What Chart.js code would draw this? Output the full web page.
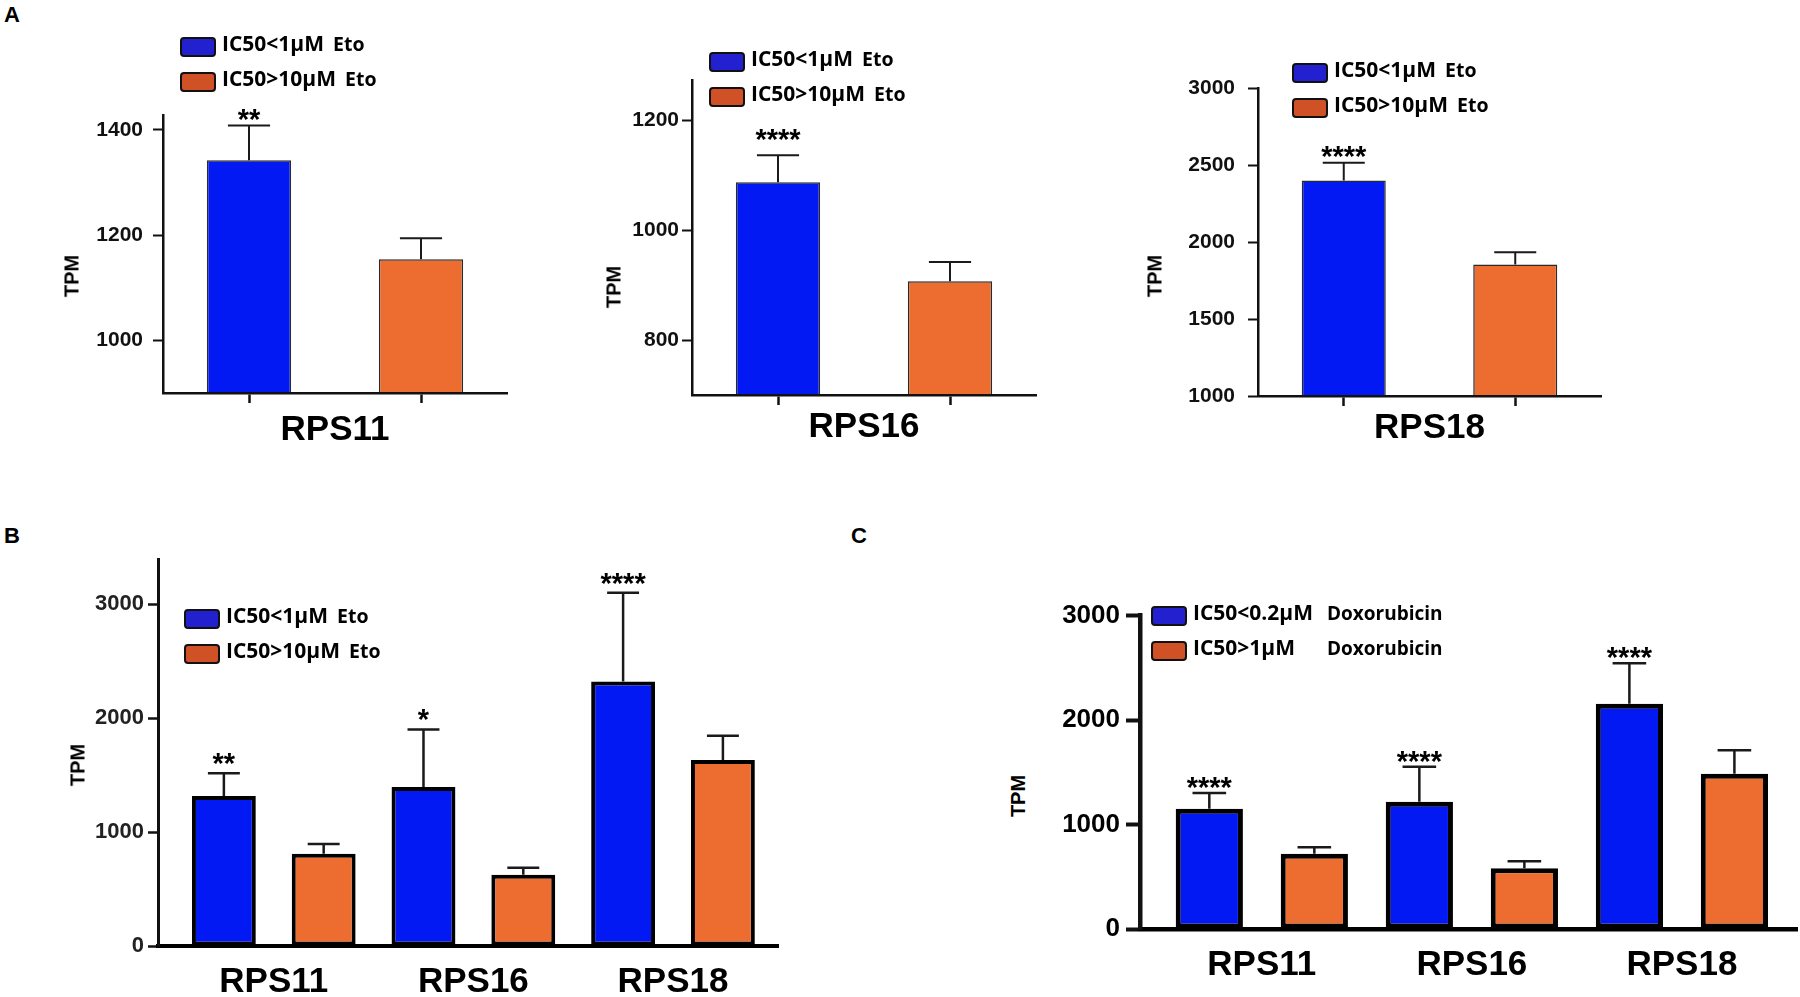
<!DOCTYPE html>
<html>
<head>
<meta charset="utf-8">
<title>RPS11 / RPS16 / RPS18 TPM</title>
<script src="https://cdn.jsdelivr.net/npm/chart.js@4.4.1/dist/chart.umd.min.js"></script>
<style>
  html, body { margin: 0; padding: 0; background: #fff; }
  body { width: 1800px; height: 997px; position: relative; overflow: hidden; }
  canvas { position: absolute; }
  .letter { position: absolute; font: bold 22px 'Liberation Sans', Arial, sans-serif; line-height: 22px; color: #000; }
  .ytitle { position: absolute; font: bold 20px 'Liberation Sans', Arial, sans-serif; color: #000;
            transform: translate(-50%, -50%) rotate(-90deg); white-space: nowrap; }
  .legend { position: absolute; font-family: 'Open Sans', sans-serif; font-weight: 700; color: #000; white-space: pre; }
  .legend .row { position: absolute; left: 0; display: flex; align-items: flex-start; }
  .legend .box { width: 36px; height: 20px; box-sizing: border-box; border: 2.5px solid #111; border-radius: 4px; flex: none; }
  .legend .txt { margin-left: 6px; line-height: 20px; position: relative; top: -4px; }
  .legend .lab { font-size: 21px; display: inline-block; }
  .legend .drug { font-size: 19.5px; margin-left: 9px; }
</style>
</head>
<body>
<div class="letter" style="left:4px;top:4px">A</div>
<div class="letter" style="left:4px;top:525px">B</div>
<div class="letter" style="left:851px;top:525px">C</div>
<canvas id="a0"></canvas>
<canvas id="a1"></canvas>
<canvas id="a2"></canvas>
<canvas id="b"></canvas>
<canvas id="c"></canvas>
<script>
// Data
const genes = ['RPS11', 'RPS16', 'RPS18'];
const etoGroups = ['IC50<1μM', 'IC50>10μM'];
const etoDrug = 'Eto';
const doxoGroups = ['IC50<0.2μM', 'IC50>1μM'];
const doxoDrug = 'Doxorubicin';
const yTitle = 'TPM';

// Panel A: one chart per gene (etoposide)
const aSensitive = [1342, 1087, 2402];
const aSensitiveErr = [66, 49, 115];
const aResistant = [1154, 907, 1855];
const aResistantErr = [40, 35, 81];
const aStars = ['**', '****', '****'];
const aYMin = [900, 700, 1000];
const aYMax = [1427, 1273, 3000];
const aYTicks = [[1000, 1200, 1400], [800, 1000, 1200], [1000, 1500, 2000, 2500, 3000]];

// Panel B: etoposide, all genes
const bSensitive = [1315, 1395, 2320];
const bSensitiveErr = [200, 505, 779];
const bResistant = [810, 625, 1632];
const bResistantErr = [85, 62, 213];
const bStars = ['**', '*', '****'];
const bYTicks = [0, 1000, 2000, 3000];

// Panel C: doxorubicin, all genes
const cSensitive = [1150, 1218, 2157];
const cSensitiveErr = [153, 335, 386];
const cResistant = [720, 582, 1486];
const cResistantErr = [63, 67, 226];
const cStars = ['****', '****', '****'];
const cYTicks = [0, 1000, 2000, 3000];

const BLUE = '#0219f4';
const ORANGE = '#ed6c2f';
const LEGEND_COLORS = ['#2320cf', '#cf5125'];
const FONT = "'Liberation Sans', Arial, sans-serif";

// Page layout (plot areas in page pixels)
const A_AREAS = [
    { left: 163, top: 113, right: 507, bottom: 393 },
    { left: 692, top: 80, right: 1036, bottom: 395 },
    { left: 1258, top: 83, right: 1601, bottom: 396 }
];
const A_XH = [58, 53, 53];
const B_AREA = { left: 158, top: 559, right: 778, bottom: 946 };
const C_AREA = { left: 1140, top: 614, right: 1797, bottom: 929 };
const Y_W = 100, PAD_T = 20, PAD_R = 20;

Chart.defaults.font.family = FONT;

// Error bars and significance stars
const errorBars = {
    id: 'errorBars',
    afterDatasetsDraw(chart, args, opts) {
        const ctx = chart.ctx;
        const yScale = chart.scales.y;
        chart.data.datasets.forEach((ds, di) => {
            const meta = chart.getDatasetMeta(di);
            meta.data.forEach((bar, i) => {
                const v = meta.controller.getParsed(i).y;
                const top = yScale.getPixelForValue(v);
                const cap = yScale.getPixelForValue(v + ds.errors[i]);
                const half = bar.width / 4;
                ctx.save();
                ctx.strokeStyle = opts.color;
                ctx.lineWidth = opts.width;
                ctx.beginPath();
                ctx.moveTo(bar.x, top);
                ctx.lineTo(bar.x, cap);
                ctx.moveTo(bar.x - half, cap);
                ctx.lineTo(bar.x + half, cap);
                ctx.stroke();
                const s = ds.stars && ds.stars[i];
                if (s) {
                    ctx.font = 'bold ' + opts.starSize + 'px ' + FONT;
                    ctx.fillStyle = '#000';
                    ctx.textAlign = 'center';
                    ctx.textBaseline = 'alphabetic';
                    ctx.fillText(s, bar.x, cap - opts.starGap + opts.starSize * 0.55);
                }
                ctx.restore();
            });
        });
    }
};
Chart.register(errorBars);

function placeCanvas(id, area, xh) {
    const c = document.getElementById(id);
    const w = area.right - area.left + Y_W + PAD_R;
    const h = area.bottom - area.top + PAD_T + xh;
    c.width = w;
    c.height = h;
    c.style.left = (area.left - Y_W) + 'px';
    c.style.top = (area.top - PAD_T) + 'px';
    c.style.width = w + 'px';
    c.style.height = h + 'px';
    return c;
}

function yAxis(min, max, ticks, o) {
    return {
        min: min,
        max: max,
        afterFit: s => { s.width = Y_W; },
        afterBuildTicks: s => { s.ticks = ticks.map(v => ({ value: v })); },
        border: { display: true, color: '#111', width: o.axisW, z: 1 },
        grid: { drawOnChartArea: false, drawTicks: true, tickLength: o.tickLen, tickWidth: o.tickW, tickColor: '#111' },
        ticks: {
            callback: v => String(v),
            font: { size: o.size, weight: 'bold' },
            color: o.color || '#111',
            padding: o.pad
        }
    };
}

function addYTitle(x, y) {
    const d = document.createElement('div');
    d.className = 'ytitle';
    d.textContent = yTitle;
    d.style.left = x + 'px';
    d.style.top = y + 'px';
    document.body.appendChild(d);
}

function addLegend(left, top, groups, drug, labWidth) {
    const wrap = document.createElement('div');
    wrap.className = 'legend';
    wrap.style.left = left + 'px';
    wrap.style.top = top + 'px';
    groups.forEach((g, i) => {
        const row = document.createElement('div');
        row.className = 'row';
        row.style.top = (i * 35) + 'px';
        const box = document.createElement('span');
        box.className = 'box';
        box.style.background = LEGEND_COLORS[i];
        const txt = document.createElement('span');
        txt.className = 'txt';
        const lab = document.createElement('span');
        lab.className = 'lab';
        lab.textContent = g;
        if (labWidth) lab.style.width = labWidth + 'px';
        const dr = document.createElement('span');
        dr.className = 'drug';
        dr.textContent = drug;
        if (labWidth) {
            dr.style.marginLeft = '0px';
            dr.style.fontSize = '19px';
        }
        txt.appendChild(lab);
        txt.appendChild(dr);
        row.appendChild(box);
        row.appendChild(txt);
        wrap.appendChild(row);
    });
    document.body.appendChild(wrap);
}

// Panel A
const aStyle = [
    { pad: 10, starGap: 13 },
    { pad: 3, starGap: 22 },
    { pad: 13, starGap: 13 }
];
function makeA(i) {
    const xh = A_XH[i];
    const canvas = placeCanvas('a' + i, A_AREAS[i], xh);
    new Chart(canvas, {
        type: 'bar',
        data: {
            labels: etoGroups,
            datasets: [{
                data: [aSensitive[i], aResistant[i]],
                errors: [aSensitiveErr[i], aResistantErr[i]],
                stars: [aStars[i], ''],
                backgroundColor: [BLUE, ORANGE],
                borderColor: '#2a2a2a',
                borderWidth: 1.5,
                borderSkipped: false,
                categoryPercentage: 1,
                barPercentage: 0.49
            }]
        },
        options: {
            responsive: false,
            animation: false,
            layout: { padding: { top: PAD_T, right: PAD_R, bottom: 0, left: 0 } },
            plugins: {
                legend: { display: false },
                tooltip: { enabled: false },
                errorBars: { color: '#1a1a1a', width: 2, starSize: 29, starGap: aStyle[i].starGap }
            },
            scales: {
                x: {
                    type: 'category',
                    offset: true,
                    afterFit: s => { s.height = xh; },
                    border: { display: true, color: '#111', width: 2.5, z: 1 },
                    grid: { offset: false, drawOnChartArea: false, drawTicks: true, tickLength: 10, tickWidth: 2.5, tickColor: '#111' },
                    ticks: { display: false },
                    title: {
                        display: true,
                        text: genes[i],
                        color: '#000',
                        font: { size: 35, weight: 'bold', lineHeight: 1.2 },
                        padding: { top: 0, bottom: 0 }
                    }
                },
                y: yAxis(aYMin[i], aYMax[i], aYTicks[i], { axisW: 2.5, tickLen: 10, tickW: 2, size: 21, pad: aStyle[i].pad })
            }
        }
    });
}

// Panels B and C
function makeGrouped(id, area, groups, sens, sensErr, res, resErr, stars, xMax, yMax, yTicks, st) {
    const canvas = placeCanvas(id, area, 60);
    const pts = vals => vals.map((v, i) => ({ x: i, y: v }));
    const barOpts = {
        borderColor: '#000',
        borderWidth: st.barBorder,
        borderSkipped: false,
        categoryPercentage: 1,
        barPercentage: 0.64
    };
    new Chart(canvas, {
        type: 'bar',
        data: {
            datasets: [
                Object.assign({ label: groups[0], data: pts(sens), errors: sensErr, stars: stars, backgroundColor: BLUE }, barOpts),
                Object.assign({ label: groups[1], data: pts(res), errors: resErr, stars: [], backgroundColor: ORANGE }, barOpts)
            ]
        },
        options: {
            responsive: false,
            animation: false,
            layout: { padding: { top: PAD_T, right: PAD_R, bottom: 0, left: 0 } },
            plugins: {
                legend: { display: false },
                tooltip: { enabled: false },
                errorBars: { color: '#1a1a1a', width: 2.5, starSize: 29, starGap: st.starGap }
            },
            scales: {
                x: {
                    type: 'linear',
                    min: -0.58,
                    max: xMax,
                    offset: false,
                    afterFit: s => { s.height = 60; },
                    afterBuildTicks: s => { s.ticks = genes.map((g, i) => ({ value: i })); },
                    border: { display: true, color: '#000', width: st.xAxisW, z: 1 },
                    grid: { display: false, drawTicks: false },
                    ticks: {
                        callback: v => genes[v],
                        autoSkip: false,
                        maxRotation: 0,
                        color: '#000',
                        font: { size: 35, weight: 'bold', lineHeight: 1.2 },
                        padding: st.labelPad
                    }
                },
                y: yAxis(0, yMax, yTicks, { axisW: st.yAxisW, tickLen: st.tickLen, tickW: st.tickW, size: st.tickSize, pad: st.tickPad, color: st.tickColor })
            }
        }
    });
}

[0, 1, 2].forEach(makeA);

makeGrouped('b', B_AREA, etoGroups, bSensitive, bSensitiveErr, bResistant, bResistantErr, bStars, 2.526, 3395, bYTicks,
    { barBorder: 4, xAxisW: 4, yAxisW: 3, tickLen: 10, tickW: 2.5, tickSize: 22, tickPad: 4, tickColor: '#222', starGap: 16, labelPad: 15 });

makeGrouped('c', C_AREA, doxoGroups, cSensitive, cSensitiveErr, cResistant, cResistantErr, cStars, 2.548, 3000, cYTicks,
    { barBorder: 5, xAxisW: 4.5, yAxisW: 4.5, tickLen: 14, tickW: 4, tickSize: 26, tickPad: 6, tickColor: '#000', starGap: 12, labelPad: 15 });

// Axis titles
addYTitle(72, 276);
addYTitle(614, 287);
addYTitle(1155, 276);
addYTitle(78, 765);
addYTitle(1018, 796);

// Legends
addLegend(180, 37, etoGroups, etoDrug);
addLegend(709, 52, etoGroups, etoDrug);
addLegend(1292, 63, etoGroups, etoDrug);
addLegend(184, 609, etoGroups, etoDrug);
addLegend(1151, 606, doxoGroups, doxoDrug, 134);
</script>
</body>
</html>
